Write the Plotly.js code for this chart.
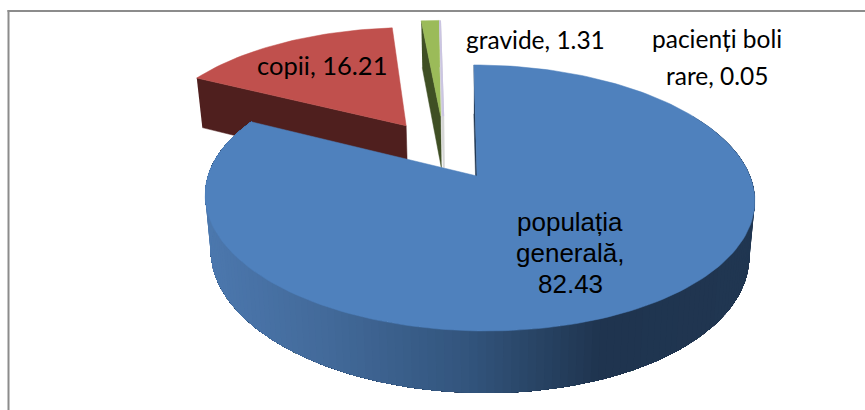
<!DOCTYPE html>
<html><head><meta charset="utf-8">
<script src="https://cdn.plot.ly/plotly-3.0.1.min.js"></script>
<style>html,body{margin:0;padding:0;background:#fff}#c{width:865px;height:410px}</style>
</head><body><div id="c"></div>
<script>
// Data
const categories = ["populația generală", "copii", "gravide", "pacienți boli rare"];
const values = [82.43, 16.21, 1.31, 0.05];
const labelLines = [["populația", "generală,", "82.43"], ["copii, 16.21"], ["gravide, 1.31"], ["pacienți boli", "rare, 0.05"]];

// Styling of each slice
const topColors = ["#4f81bd", "#c0504d", "#9bbb59", "#cbc5e2"];
const wallColors = ["#1f344f", "#4f1f1e", "#3f4f24", "#d6d6d6"];
const explodeU = [0, -0.278, -0.128, -0.124];
const explodeV = [0, 0.415, 0.50, 0.50];
const rotateDeg = [0, 0, -1.1, -1.1];
const labelX = [570, 322, 535, 717];
const labelY = [253, 65, 39, 57];
const labelGap = [31, 0, 0, 37];
const labelFonts = ["Liberation Sans", "Lato", "Lato", "Lato"];
const labelSizes = [26, 25.5, 24.5, 24.5];

// Perspective of the tilted disc
const X0 = 479, Y0 = 176, A = 271, B = 129.4, P = 0.165, DEPTH = 54.4, SHRINK = 0.98;
const HUB_SHIFT = [-2, 0, -3.5, -2];
const gradX = [204, 330, 470, 600, 760];
const gradC = [[76,120,174],[66,105,153],[50,84,124],[31,52,79],[32,54,81]];

function project(u, v, bottom) {
  const w = 1 + P * v;
  if (bottom) return [X0 + (A * SHRINK * u - 6 * v) / w, Y0 + (-B * SHRINK * v + DEPTH) / w];
  return [X0 + (A * u - 6 * v) / w, Y0 - B * v / w];
}
function rim(deg, i, bottom) {
  const r = (deg + rotateDeg[i]) * Math.PI / 180;
  return project(Math.sin(r) + explodeU[i], Math.cos(r) + explodeV[i], bottom);
}
function hub(i, bottom) {
  const p = project(explodeU[i], explodeV[i], bottom);
  return [p[0] + HUB_SHIFT[i], p[1]];
}
function gradient(x) {
  for (let k = 0; k < gradX.length - 1; k++) {
    if (x <= gradX[k + 1]) {
      const t = Math.max(0, (x - gradX[k]) / (gradX[k + 1] - gradX[k]));
      const c = gradC[k].map((a, j) => Math.round(a + (gradC[k + 1][j] - a) * t));
      return `rgb(${c.join(",")})`;
    }
  }
  return `rgb(${gradC[gradC.length - 1].join(",")})`;
}
function poly(pts, color, name, lw) {
  return { type: "scatter", mode: "lines", x: pts.map(p => p[0]), y: pts.map(p => p[1]),
    fill: "toself", fillcolor: color, line: { color: color, width: lw === undefined ? 0.5 : lw },
    hoverinfo: "text", text: name, showlegend: false };
}

const total = values.reduce((a, b) => a + b, 0);
const starts = [], ends = [];
let acc = 0;
values.forEach(v => { starts.push(acc / total * 360); acc += v; ends.push(acc / total * 360); });

function topFace(i) {
  const pts = [hub(i, false)];
  const n = Math.max(2, Math.ceil((ends[i] - starts[i]) / 1.5));
  for (let k = 0; k <= n; k++) pts.push(rim(starts[i] + (ends[i] - starts[i]) * k / n, i, false));
  pts.push(hub(i, false));
  return pts;
}
// side wall along the slice's opening edge
function startWall(i) {
  return [rim(starts[i], i, false), hub(i, false), hub(i, true), rim(starts[i], i, true)];
}

const traces = [];
// back slices first, the largest slice sits in front of them
[1, 2].forEach(i => {
  traces.push(poly(startWall(i), wallColors[i], categories[i]));
  traces.push(poly(topFace(i), topColors[i], categories[i]));
});
traces.push(poly(startWall(3), wallColors[3], categories[3], 2));
traces.push(poly(topFace(3), topColors[3], categories[3], 2));

// outer wall of the largest slice: each band covers the rest of the arc, so no seams show
const step = 1.5;
for (let d = 60; d < ends[0]; d += step) {
  const upper = [], lower = [];
  for (let t = d; t < ends[0]; t += step) { upper.push(rim(t, 0, false)); lower.push(rim(t, 0, true)); }
  upper.push(rim(ends[0], 0, false)); lower.push(rim(ends[0], 0, true));
  const mid = rim(d + step / 2, 0, false);
  traces.push(poly(upper.concat(lower.reverse()), gradient(mid[0]), categories[0], 0));
}
traces.push(poly(startWall(0), wallColors[0], categories[0]));
traces.push(poly(topFace(0), topColors[0], categories[0]));

const annotations = [];
labelLines.forEach((lines, i) => {
  lines.forEach((line, j) => {
    annotations.push({
      x: labelX[i], y: labelY[i] + (j - (lines.length - 1) / 2) * labelGap[i], xref: "x", yref: "y", text: line,
      showarrow: false, align: "center", xanchor: "center", yanchor: "middle",
      font: { family: labelFonts[i], size: labelSizes[i], color: "#000" }
    });
  });
});

const layout = {
  width: 865, height: 410, margin: { l: 0, r: 0, t: 0, b: 0 },
  paper_bgcolor: "#fff", plot_bgcolor: "#fff", showlegend: false,
  xaxis: { range: [0, 865], visible: false, fixedrange: true },
  yaxis: { range: [410, 0], visible: false, fixedrange: true },
  annotations,
  shapes: [
    { type: "line", xref: "x", yref: "y", x0: 7.5, x1: 865, y0: 11, y1: 11, line: { color: "#8c8c8c", width: 2 } },
    { type: "line", xref: "x", yref: "y", x0: 8.5, x1: 8.5, y0: 10, y1: 410, line: { color: "#8c8c8c", width: 2 } }
  ]
};
Plotly.newPlot("c", traces, layout, { displayModeBar: false });
</script></body></html>
